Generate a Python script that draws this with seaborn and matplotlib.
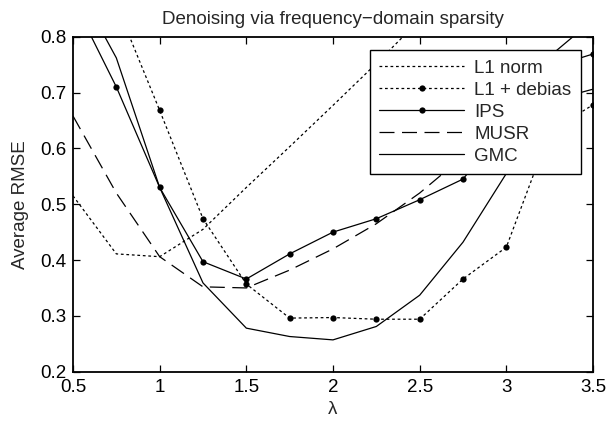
import matplotlib
matplotlib.use("Agg")
import matplotlib.pyplot as plt
import seaborn as sns
import pandas as pd
import numpy as np

lam = [0.5, 0.75, 1.0, 1.25, 1.5, 1.75, 2.0, 2.25, 2.5, 2.75, 3.0, 3.25, 3.5]

l1_norm = [0.515, 0.411, 0.406, 0.455, 0.53, 0.603, 0.677, 0.752, 0.83, 0.90, 0.97, 1.04, 1.11]
l1_debias = [1.05, 0.858, 0.668, 0.474, 0.357, 0.296, 0.297, 0.294, 0.294, 0.366, 0.423, 0.63, 0.678]
ips = [0.866, 0.71, 0.53, 0.397, 0.366, 0.411, 0.450, 0.474, 0.508, 0.545, 0.64, 0.745, 0.769]
musr = [0.658, 0.52, 0.406, 0.352, 0.350, 0.382, 0.42, 0.465, 0.52, 0.585, 0.645, 0.685, 0.706]
gmc = [0.905, 0.762, 0.53, 0.359, 0.278, 0.263, 0.257, 0.281, 0.337, 0.432, 0.555, 0.765, 0.83]

labels = ["L1 norm", "L1 + debias", "IPS", "MUSR", "GMC"]
series = [l1_norm, l1_debias, ips, musr, gmc]

title = "Denoising via frequency\u2212domain sparsity"
xlabel = "\u03bb"
ylabel = "Average RMSE"
xticks = [0.5, 1, 1.5, 2, 2.5, 3, 3.5]
xticklabels = ["0.5", "1", "1.5", "2", "2.5", "3", "3.5"]
yticks = [0.2, 0.3, 0.4, 0.5, 0.6, 0.7, 0.8]
yticklabels = ["0.2", "0.3", "0.4", "0.5", "0.6", "0.7", "0.8"]

sns.set_theme(style="white")
plt.rcParams["font.family"] = ["Liberation Sans", "DejaVu Sans"]

styles = {
    "L1 norm": dict(linestyle=(0, (2.2, 2.2)), marker=None),
    "L1 + debias": dict(linestyle=(0, (2.2, 2.2)), marker="o"),
    "IPS": dict(linestyle="-", marker="o"),
    "MUSR": dict(linestyle=(0, (12, 6)), marker=None),
    "GMC": dict(linestyle="-", marker=None),
}

fig = plt.figure(figsize=(6.09, 4.22), dpi=100)
ax = fig.add_axes([73 / 609, 1 - 371.7 / 422, 520 / 609, 335 / 422])

for lab, vals in zip(labels, series):
    df = pd.DataFrame({"lam": lam, "rmse": vals})
    st = styles[lab]
    sns.lineplot(data=df, x="lam", y="rmse", ax=ax, color="black", linewidth=0.9,
                 linestyle=st["linestyle"], marker=st["marker"], markersize=4.5,
                 markeredgewidth=0, label=lab)

fs = 13.5
ax.set_xlim(0.5, 3.5)
ax.set_ylim(0.2, 0.8)
ax.set_xticks(xticks)
ax.set_xticklabels(xticklabels, fontsize=fs)
ax.set_yticks(yticks)
ax.set_yticklabels(yticklabels, fontsize=fs)
ax.tick_params(direction="in", length=5, width=0.9, top=True, right=True,
               bottom=True, left=True, colors="black", pad=5)
for s in ax.spines.values():
    s.set_visible(True)
    s.set_color("black")
    s.set_linewidth(1.3)
ax.set_xlabel(xlabel, fontsize=fs, labelpad=4)
ax.set_ylabel(ylabel, fontsize=fs, labelpad=8)
ax.set_title(title, fontsize=fs, pad=9)

leg = ax.legend(loc="upper right", bbox_to_anchor=(0.976, 0.960), borderaxespad=0,
                fontsize=fs, handlelength=4.5, handletextpad=0.55, labelspacing=0.26,
                borderpad=0.5, frameon=True, fancybox=False, shadow=False)
leg.get_frame().set_edgecolor("black")
leg.get_frame().set_linewidth(1.0)
leg.get_frame().set_alpha(1)

fig.savefig("out.png", dpi=100)
